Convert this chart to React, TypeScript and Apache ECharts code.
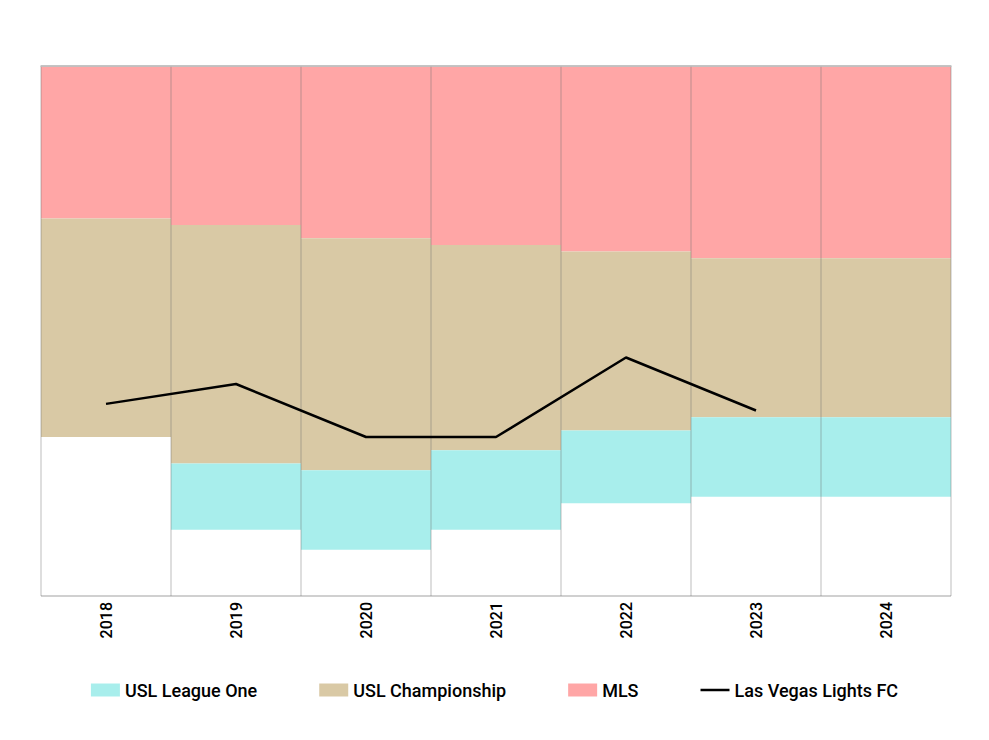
import React, { useEffect, useRef } from "react";
import * as echarts from "echarts";

const years = ["2018", "2019", "2020", "2021", "2022", "2023", "2024"];
const mlsTeams = [23, 24, 26, 27, 28, 29, 29];
const championshipTeams = [33, 36, 35, 31, 27, 24, 24];
const leagueOneTeams = [0, 10, 12, 12, 11, 12, 12];
const lasVegasRank = [51, 48, 56, 56, 44, 52, null];

const FONT = "Roboto";

export default function App() {
  const ref = useRef<HTMLDivElement>(null);
  useEffect(() => {
    if (!ref.current) return;
    const chart = echarts.init(ref.current, null, { renderer: "svg" });
    chart.setOption({
      animation: false,
      textStyle: { fontFamily: FONT },
      grid: { left: 33, right: 30, top: 58, bottom: 136, containLabel: false },
      legend: {
        left: "center",
        top: 668,
        itemGap: 62,
        itemWidth: 29,
        itemHeight: 13,
        symbolKeepAspect: true,
        textStyle: { fontFamily: FONT, fontSize: 18, fontWeight: 500, color: "#000" },
        data: [
          { name: "USL League One", icon: "rect" },
          { name: "USL Championship", icon: "rect" },
          { name: "MLS", icon: "rect" },
          { name: "Las Vegas Lights FC", icon: "path://M0,0H29V2.5H0Z" },
        ],
      },
      xAxis: {
        type: "category",
        data: years,
        z: 5,
        boundaryGap: true,
        axisLine: { show: true, lineStyle: { color: "#c0c0c0", width: 1.5 } },
        axisTick: { show: false },
        splitLine: {
          show: true,
          interval: 0,
          lineStyle: { color: "rgba(110,110,110,0.3)", width: 1.5 },
        },
        axisLabel: {
          rotate: 90,
          interval: 0,
          margin: 6,
          fontFamily: FONT,
          fontSize: 16,
          fontWeight: 500,
          color: "#000",
        },
      },
      yAxis: {
        type: "value",
        inverse: true,
        min: 0,
        max: 80,
        interval: 80,
        z: 5,
        axisLine: { show: false },
        axisTick: { show: false },
        axisLabel: { show: false },
        splitLine: { show: true, lineStyle: { color: "#c0c0c0", width: 1.5 } },
      },
      series: [
        {
          name: "MLS",
          type: "bar",
          stack: "pyramid",
          barWidth: "100%",
          barCategoryGap: 0,
          itemStyle: { color: "#ffa6a6" },
          data: mlsTeams,
        },
        {
          name: "USL Championship",
          type: "bar",
          stack: "pyramid",
          barWidth: "100%",
          itemStyle: { color: "#d9c9a5" },
          data: championshipTeams,
        },
        {
          name: "USL League One",
          type: "bar",
          stack: "pyramid",
          barWidth: "100%",
          itemStyle: { color: "#a8eeec" },
          data: leagueOneTeams,
        },
        {
          name: "Las Vegas Lights FC",
          type: "line",
          z: 10,
          symbol: "none",
          connectNulls: false,
          lineStyle: { color: "#000", width: 2.5 },
          itemStyle: { color: "#000" },
          data: lasVegasRank,
        },
      ],
    });
    return () => chart.dispose();
  }, []);
  return <div ref={ref} style={{ width: 973, height: 724 }} />;
}
